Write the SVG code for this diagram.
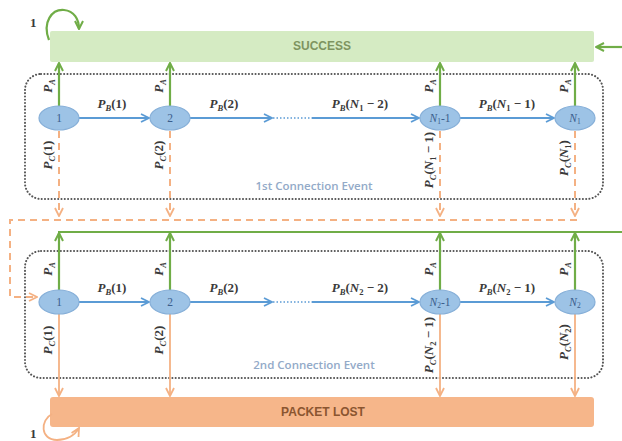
<svg xmlns="http://www.w3.org/2000/svg" width="622" height="441" viewBox="0 0 622 441">
<style>
.m{font-family:"Liberation Serif",serif;font-style:italic;font-weight:bold;font-size:13px;fill:#3a3a3a}
.nl{font-family:"Liberation Serif",serif;font-size:11.5px;fill:#3B5E8C;text-anchor:middle}
.nli{font-style:italic}
.ev{font-family:"Open Sans","Liberation Sans",sans-serif;font-weight:600;font-size:11.5px;fill:#93AAC8;text-anchor:middle}
.bx{font-family:"Liberation Sans",sans-serif;font-weight:bold;font-size:12px;text-anchor:middle}
.node{fill:#9DC3E6;stroke:#86AFD8;stroke-width:1.2}
.g{stroke:#70AD47;stroke-width:2.2;fill:none}
.b{stroke:#5B9BD5;stroke-width:2;fill:none}
.bd{stroke:#5B9BD5;stroke-width:1.5;stroke-dasharray:1.5 2;fill:none}
.od{stroke:#F4B183;stroke-width:2;stroke-dasharray:7 5;fill:none}
.o{stroke:#F4B183;stroke-width:1.8;fill:none}
.dot{fill:none;stroke:#555;stroke-width:2;stroke-dasharray:0.1 3.2;stroke-linecap:round}
</style>
<defs>
<marker id="ag" viewBox="0 0 10 10" refX="9" refY="5" markerWidth="10" markerHeight="10" orient="auto" markerUnits="userSpaceOnUse"><path d="M1,1 L9,5 L1,9" fill="none" stroke="#70AD47" stroke-width="2"/></marker>
<marker id="ab" viewBox="0 0 10 10" refX="9" refY="5" markerWidth="10" markerHeight="10" orient="auto" markerUnits="userSpaceOnUse"><path d="M1,1 L9,5 L1,9" fill="none" stroke="#5B9BD5" stroke-width="1.8"/></marker>
<marker id="ao" viewBox="0 0 10 10" refX="9" refY="5" markerWidth="10" markerHeight="10" orient="auto" markerUnits="userSpaceOnUse"><path d="M1,1 L9,5 L1,9" fill="none" stroke="#F4B183" stroke-width="1.8"/></marker>
</defs>

<g id="success">
<rect x="50" y="31" width="544" height="31" rx="2" fill="#D5EBC3"/>
<text class="bx" x="322" y="50" fill="#7E9460">SUCCESS</text>
</g>
<g id="packet-lost">
<rect x="50" y="397" width="544" height="30" rx="3" fill="#F6B68A"/>
<text class="bx" x="323" y="416" fill="#8A5530">PACKET LOST</text>
</g>

<g id="event1">
<rect class="dot" x="25" y="74" width="578" height="125" rx="16"/>
<text class="ev" x="314" y="190">1st Connection Event</text>
</g>
<g id="event2">
<rect class="dot" x="25" y="251" width="578" height="127" rx="16"/>
<text class="ev" x="314" y="369">2nd Connection Event</text>
</g>

<g id="connectors">
<path class="g" d="M49 40 C42 22 52 9 64 10 C74 11 79 19 79 29" marker-end="url(#ag)"/>
<text class="m" x="30" y="27" style="font-style:normal">1</text>
<path class="o" d="M52 414 C40 420 40 440 57 440 C67 440 75 435 79 428" marker-end="url(#ao)" stroke-width="2.2"/>
<text class="m" x="30" y="438" style="font-style:normal">1</text>
<line class="g" x1="622" y1="47" x2="596" y2="47" marker-end="url(#ag)"/>

<line class="g" x1="59" y1="106" x2="59" y2="63" marker-end="url(#ag)"/>
<line class="g" x1="170" y1="106" x2="170" y2="63" marker-end="url(#ag)"/>
<line class="g" x1="440" y1="106" x2="440" y2="63" marker-end="url(#ag)"/>
<line class="g" x1="575" y1="106" x2="575" y2="63" marker-end="url(#ag)"/>
<line class="b" x1="79" y1="118" x2="149" y2="118" marker-end="url(#ab)"/>
<line class="b" x1="190" y1="118" x2="272" y2="118" marker-end="url(#ab)"/>
<line class="bd" x1="273" y1="118" x2="312" y2="118"/>
<line class="b" x1="312" y1="118" x2="419" y2="118" marker-end="url(#ab)"/>
<line class="b" x1="460" y1="118" x2="554" y2="118" marker-end="url(#ab)"/>
<line class="od" x1="59" y1="131" x2="59" y2="216" marker-end="url(#ao)"/>
<line class="od" x1="170" y1="131" x2="170" y2="216" marker-end="url(#ao)"/>
<line class="od" x1="440" y1="131" x2="440" y2="216" marker-end="url(#ao)"/>
<line class="od" x1="575" y1="131" x2="575" y2="216" marker-end="url(#ao)"/>
<path class="od" d="M577 220 L10 220 L10 297 L37 297" marker-end="url(#ao)"/>

<line class="g" x1="58" y1="232" x2="622" y2="232"/>
<line class="g" x1="59" y1="290" x2="59" y2="233" marker-end="url(#ag)"/>
<line class="g" x1="170" y1="290" x2="170" y2="233" marker-end="url(#ag)"/>
<line class="g" x1="440" y1="290" x2="440" y2="233" marker-end="url(#ag)"/>
<line class="g" x1="575" y1="290" x2="575" y2="233" marker-end="url(#ag)"/>
<line class="b" x1="79" y1="302" x2="149" y2="302" marker-end="url(#ab)"/>
<line class="b" x1="190" y1="302" x2="272" y2="302" marker-end="url(#ab)"/>
<line class="bd" x1="273" y1="302" x2="312" y2="302"/>
<line class="b" x1="312" y1="302" x2="419" y2="302" marker-end="url(#ab)"/>
<line class="b" x1="460" y1="302" x2="554" y2="302" marker-end="url(#ab)"/>
<line class="o" x1="59" y1="314" x2="59" y2="396" marker-end="url(#ao)"/>
<line class="o" x1="170" y1="314" x2="170" y2="396" marker-end="url(#ao)"/>
<line class="o" x1="440" y1="314" x2="440" y2="396" marker-end="url(#ao)"/>
<line class="o" x1="575" y1="314" x2="575" y2="396" marker-end="url(#ao)"/>
</g>

<g id="labels">
<text class="m" transform="translate(52,86) rotate(-90)" text-anchor="middle">P<tspan font-size="8.5" dy="3">A</tspan></text>
<text class="m" transform="translate(163,86) rotate(-90)" text-anchor="middle">P<tspan font-size="8.5" dy="3">A</tspan></text>
<text class="m" transform="translate(433,86) rotate(-90)" text-anchor="middle">P<tspan font-size="8.5" dy="3">A</tspan></text>
<text class="m" transform="translate(568,86) rotate(-90)" text-anchor="middle">P<tspan font-size="8.5" dy="3">A</tspan></text>
<text class="m" x="112" y="108" text-anchor="middle">P<tspan font-size="8.5" dy="3">B</tspan><tspan dy="-3" style="font-style:normal">(1)</tspan></text>
<text class="m" x="224" y="108" text-anchor="middle">P<tspan font-size="8.5" dy="3">B</tspan><tspan dy="-3" style="font-style:normal">(2)</tspan></text>
<text class="m" x="360" y="108" text-anchor="middle">P<tspan font-size="8.5" dy="3">B</tspan><tspan dy="-3" style="font-style:normal">(</tspan>N<tspan font-size="8.5" dy="3" style="font-style:normal">1</tspan><tspan dy="-3" style="font-style:normal"> − 2)</tspan></text>
<text class="m" x="507" y="108" text-anchor="middle">P<tspan font-size="8.5" dy="3">B</tspan><tspan dy="-3" style="font-style:normal">(</tspan>N<tspan font-size="8.5" dy="3" style="font-style:normal">1</tspan><tspan dy="-3" style="font-style:normal"> − 1)</tspan></text>
<text class="m" transform="translate(52,155) rotate(-90)" text-anchor="middle">P<tspan font-size="8.5" dy="3">C</tspan><tspan dy="-3" style="font-style:normal">(1)</tspan></text>
<text class="m" transform="translate(163,155) rotate(-90)" text-anchor="middle">P<tspan font-size="8.5" dy="3">C</tspan><tspan dy="-3" style="font-style:normal">(2)</tspan></text>
<text class="m" transform="translate(433,160) rotate(-90)" text-anchor="middle">P<tspan font-size="8.5" dy="3">C</tspan><tspan dy="-3" style="font-style:normal">(</tspan>N<tspan font-size="8.5" dy="3" style="font-style:normal">1</tspan><tspan dy="-3" style="font-style:normal"> − 1)</tspan></text>
<text class="m" transform="translate(568,158) rotate(-90)" text-anchor="middle">P<tspan font-size="8.5" dy="3">C</tspan><tspan dy="-3" style="font-style:normal">(</tspan>N<tspan font-size="8.5" dy="3" style="font-style:normal">1</tspan><tspan dy="-3" style="font-style:normal">)</tspan></text>
<text class="m" transform="translate(52,269) rotate(-90)" text-anchor="middle">P<tspan font-size="8.5" dy="3">A</tspan></text>
<text class="m" transform="translate(163,269) rotate(-90)" text-anchor="middle">P<tspan font-size="8.5" dy="3">A</tspan></text>
<text class="m" transform="translate(433,269) rotate(-90)" text-anchor="middle">P<tspan font-size="8.5" dy="3">A</tspan></text>
<text class="m" transform="translate(568,269) rotate(-90)" text-anchor="middle">P<tspan font-size="8.5" dy="3">A</tspan></text>
<text class="m" x="112" y="292" text-anchor="middle">P<tspan font-size="8.5" dy="3">B</tspan><tspan dy="-3" style="font-style:normal">(1)</tspan></text>
<text class="m" x="224" y="292" text-anchor="middle">P<tspan font-size="8.5" dy="3">B</tspan><tspan dy="-3" style="font-style:normal">(2)</tspan></text>
<text class="m" x="360" y="292" text-anchor="middle">P<tspan font-size="8.5" dy="3">B</tspan><tspan dy="-3" style="font-style:normal">(</tspan>N<tspan font-size="8.5" dy="3" style="font-style:normal">2</tspan><tspan dy="-3" style="font-style:normal"> − 2)</tspan></text>
<text class="m" x="507" y="292" text-anchor="middle">P<tspan font-size="8.5" dy="3">B</tspan><tspan dy="-3" style="font-style:normal">(</tspan>N<tspan font-size="8.5" dy="3" style="font-style:normal">2</tspan><tspan dy="-3" style="font-style:normal"> − 1)</tspan></text>
<text class="m" transform="translate(52,340) rotate(-90)" text-anchor="middle">P<tspan font-size="8.5" dy="3">C</tspan><tspan dy="-3" style="font-style:normal">(1)</tspan></text>
<text class="m" transform="translate(163,340) rotate(-90)" text-anchor="middle">P<tspan font-size="8.5" dy="3">C</tspan><tspan dy="-3" style="font-style:normal">(2)</tspan></text>
<text class="m" transform="translate(433,345) rotate(-90)" text-anchor="middle">P<tspan font-size="8.5" dy="3">C</tspan><tspan dy="-3" style="font-style:normal">(</tspan>N<tspan font-size="8.5" dy="3" style="font-style:normal">2</tspan><tspan dy="-3" style="font-style:normal"> − 1)</tspan></text>
<text class="m" transform="translate(568,342) rotate(-90)" text-anchor="middle">P<tspan font-size="8.5" dy="3">C</tspan><tspan dy="-3" style="font-style:normal">(</tspan>N<tspan font-size="8.5" dy="3" style="font-style:normal">2</tspan><tspan dy="-3" style="font-style:normal">)</tspan></text>
</g>

<g id="n1-1"><ellipse class="node" cx="59" cy="118" rx="20" ry="12"/><text class="nl" x="59" y="122">1</text></g>
<g id="n1-2"><ellipse class="node" cx="170" cy="118" rx="20" ry="12"/><text class="nl" x="170" y="122">2</text></g>
<g id="n1-N1m1"><ellipse class="node" cx="440" cy="118" rx="20" ry="12"/><text class="nl" x="440" y="122"><tspan class="nli">N</tspan><tspan font-size="7.5" dy="2">1</tspan><tspan dy="-2">-1</tspan></text></g>
<g id="n1-N1"><ellipse class="node" cx="575" cy="118" rx="20" ry="12"/><text class="nl" x="575" y="122"><tspan class="nli">N</tspan><tspan font-size="7.5" dy="2">1</tspan></text></g>

<g id="n2-1"><ellipse class="node" cx="59" cy="302" rx="20" ry="12"/><text class="nl" x="59" y="306">1</text></g>
<g id="n2-2"><ellipse class="node" cx="170" cy="302" rx="20" ry="12"/><text class="nl" x="170" y="306">2</text></g>
<g id="n2-N2m1"><ellipse class="node" cx="440" cy="302" rx="20" ry="12"/><text class="nl" x="440" y="306"><tspan class="nli">N</tspan><tspan font-size="7.5" dy="2">2</tspan><tspan dy="-2">-1</tspan></text></g>
<g id="n2-N2"><ellipse class="node" cx="575" cy="302" rx="20" ry="12"/><text class="nl" x="575" y="306"><tspan class="nli">N</tspan><tspan font-size="7.5" dy="2">2</tspan></text></g>
</svg>
